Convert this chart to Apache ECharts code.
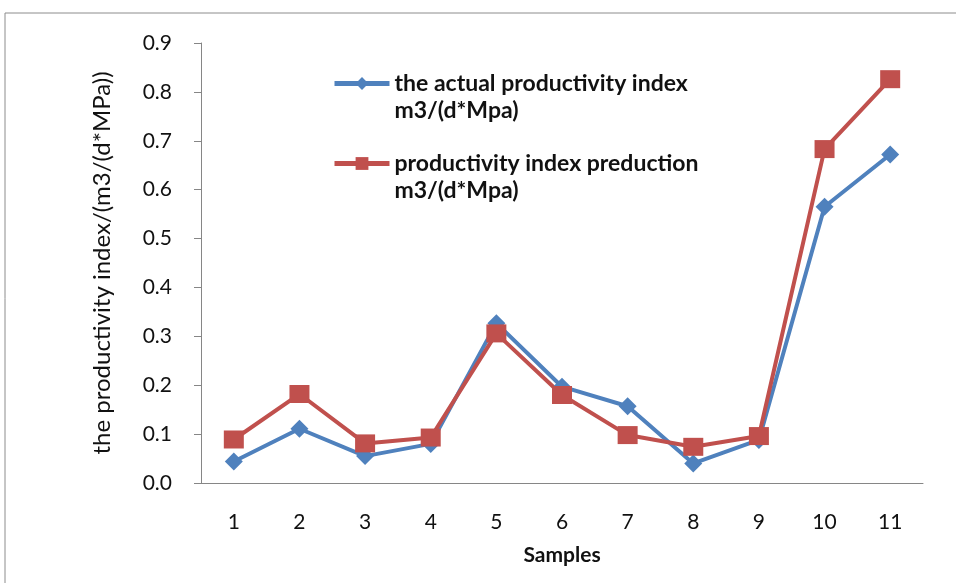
<!DOCTYPE html>
<html>
<head>
<meta charset="utf-8">
<script src="https://cdn.jsdelivr.net/npm/echarts@6/dist/echarts.min.js"></script>
<style>
  html, body { margin: 0; padding: 0; background: #fff; }
  #container { width: 956px; height: 583px; }
</style>
</head>
<body>
<div id="container"></div>
<script type="text/javascript">
    // 样本编号（X轴）
    var samples = ['1', '2', '3', '4', '5', '6', '7', '8', '9', '10', '11'];
    // 实际产能指数
    var actual = [0.044, 0.111, 0.055, 0.080, 0.327, 0.197, 0.157, 0.040, 0.088, 0.565, 0.672];
    // 预测产能指数
    var predicted = [0.089, 0.182, 0.081, 0.093, 0.306, 0.180, 0.098, 0.074, 0.096, 0.683, 0.826];
    var yTicks = ['0.0', '0.1', '0.2', '0.3', '0.4', '0.5', '0.6', '0.7', '0.8', '0.9'];

    var font = 'Lato';
    var dom = document.getElementById("container");
    var myChart = echarts.init(dom);

    var option = {
        animation: false,
        graphic: [{
            type: 'rect',
            shape: { x: 5, y: 13, width: 1000, height: 700 },
            style: { fill: 'none', stroke: '#8c8c8c', lineWidth: 1 },
            silent: true
        }],
        legend: {
            orient: 'vertical',
            left: 327,
            top: 38,
            itemWidth: 55,
            itemHeight: 16,
            itemGap: -1,
            itemStyle: { borderWidth: 0 },
            lineStyle: { width: 5 },
            // 前面加一个空行，让图标对齐第一行文字
            formatter: function (name) { return '\n' + name; },
            textStyle: {
                fontFamily: font,
                fontSize: 23,
                fontWeight: 'bold',
                color: '#111',
                lineHeight: 27
            },
            data: ['the actual productivity index\nm3/(d*Mpa)', 'productivity index preduction\nm3/(d*Mpa)']
        },
        grid: {
            left: 201,
            right: 33,
            top: 43,
            bottom: 100
        },
        xAxis: {
            type: 'category',
            data: samples,
            name: 'Samples',
            nameLocation: 'middle',
            nameGap: 62,
            nameTextStyle: { fontFamily: font, fontSize: 21, fontWeight: 'bold', color: '#111' },
            axisLine: { lineStyle: { color: '#868686', width: 1 } },
            axisTick: { alignWithLabel: false, length: 7, lineStyle: { color: '#868686' } },
            axisLabel: { fontFamily: font, fontSize: 21, color: '#111', margin: 29 },
            splitLine: { show: false }
        },
        yAxis: {
            type: 'value',
            min: 0,
            max: 0.9,
            interval: 0.1,
            name: 'the productivity index/(m3/(d*MPa))',
            nameLocation: 'middle',
            nameGap: 87,
            nameTextStyle: { fontFamily: font, fontSize: 24, color: '#111' },
            axisLine: { show: true, lineStyle: { color: '#868686', width: 1 } },
            axisTick: { show: true, length: 7, lineStyle: { color: '#868686' } },
            axisLabel: {
                fontFamily: font, fontSize: 21, color: '#111', margin: 29,
                formatter: function (v) { return yTicks[Math.round(v * 10)]; }
            },
            splitLine: { show: false }
        },
        series: [{
            name: 'the actual productivity index\nm3/(d*Mpa)',
            type: 'line',
            data: actual,
            symbol: 'diamond',
            symbolSize: [18, 18],
            lineStyle: { color: '#4F81BD', width: 4 },
            itemStyle: { color: '#4F81BD' }
        }, {
            name: 'productivity index preduction\nm3/(d*Mpa)',
            type: 'line',
            data: predicted,
            symbol: 'rect',
            symbolSize: [20, 18],
            lineStyle: { color: '#C0504D', width: 4 },
            itemStyle: { color: '#C0504D' }
        }]
    };

    myChart.setOption(option);
</script>
</body>
</html>
